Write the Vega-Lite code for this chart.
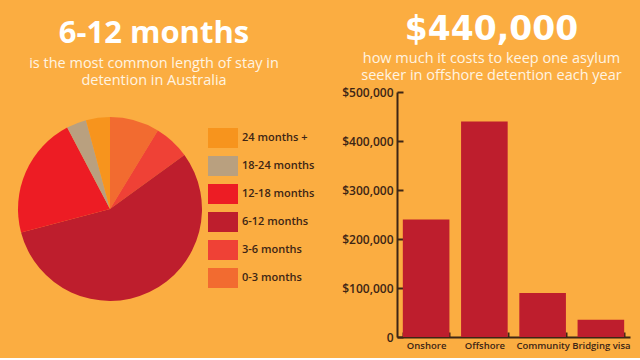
{
  "$schema": "https://vega.github.io/schema/vega-lite/v6.json",
  "background": "#FBAD41",
  "padding": {"left": 18, "top": 13, "right": 14, "bottom": 8},
  "config": {"view": {"stroke": null}, "font": "Open Sans"},
  "bounds": "flush",
  "spacing": 195,
  "hconcat": [
    {
      "width": 184,
      "height": 234,
      "title": {
        "text": "6-12 months",
        "subtitle": ["is the most common length of stay in", "detention in Australia"],
        "font": "Open Sans",
        "fontSize": 31,
        "fontWeight": "bold",
        "color": "#FFFFFF",
        "subtitleFont": "Open Sans",
        "subtitleFontSize": 14.5,
        "subtitleColor": "#FFF4E2",
        "subtitleLineHeight": 17,
        "subtitlePadding": 7,
        "anchor": "middle",
        "offset": 4,
        "dx": 44
      },
      "data": {
        "values": [
          {"stay": "0-3 months", "share": 8.7, "ord": 1},
          {"stay": "3-6 months", "share": 6.3, "ord": 2},
          {"stay": "6-12 months", "share": 55.9, "ord": 3},
          {"stay": "12-18 months", "share": 21.4, "ord": 4},
          {"stay": "18-24 months", "share": 3.5, "ord": 5},
          {"stay": "24 months +", "share": 4.2, "ord": 6}
        ]
      },
      "mark": {"type": "arc", "radius": 92},
      "encoding": {
        "theta": {"field": "share", "type": "quantitative", "stack": true},
        "order": {"field": "ord", "type": "quantitative"},
        "color": {
          "field": "stay",
          "type": "nominal",
          "scale": {
            "domain": ["24 months +", "18-24 months", "12-18 months", "6-12 months", "3-6 months", "0-3 months"],
            "range": ["#F7941D", "#B9A07F", "#ED1C24", "#BE1E2D", "#EF4136", "#F26B30"]
          },
          "legend": {
            "orient": "none",
            "legendX": 195,
            "legendY": 36,
            "title": null,
            "padding": 0,
            "symbolType": "M-1.5,-1H1.5V1H-1.5Z",
            "symbolSize": 400,
            "symbolStrokeWidth": 0,
            "symbolOpacity": 1,
            "labelOffset": 9,
            "rowPadding": 8,
            "labelFont": "Open Sans",
            "labelFontSize": 11,
            "labelFontWeight": 600,
            "labelColor": "#3D2515"
          }
        }
      }
    },
    {
      "width": 233,
      "height": 245,
      "title": {
        "text": "$440,000",
        "subtitle": ["how much it costs to keep one asylum", "seeker in offshore detention each year"],
        "font": "DejaVu Sans",
        "fontSize": 33,
        "fontWeight": "bold",
        "color": "#FFFFFF",
        "subtitleFont": "Open Sans",
        "subtitleFontSize": 14.5,
        "subtitleColor": "#FFF4E2",
        "subtitleLineHeight": 17,
        "subtitlePadding": 5,
        "anchor": "middle",
        "offset": 4,
        "dx": -22
      },
      "data": {
        "values": [
          {"kind": "Onshore", "cost": 240000},
          {"kind": "Offshore", "cost": 440000},
          {"kind": "Community", "cost": 90000},
          {"kind": "Bridging visa", "cost": 35000}
        ]
      },
      "mark": {"type": "bar", "color": "#BE1E2D"},
      "encoding": {
        "x": {
          "field": "kind",
          "type": "nominal",
          "sort": null,
          "title": null,
          "scale": {"paddingInner": 0.2, "paddingOuter": 0.1},
          "axis": {
            "labelAngle": 0,
            "tickBand": "extent",
            "tickSize": -5,
            "tickWidth": 2,
            "tickColor": "#3D2515",
            "domainColor": "#3D2515",
            "domainWidth": 2,
            "labelFont": "Open Sans",
            "labelFontSize": 9.5,
            "labelFontWeight": 600,
            "labelColor": "#3D2515",
            "labelPadding": 8
          }
        },
        "y": {
          "field": "cost",
          "type": "quantitative",
          "title": null,
          "scale": {"domain": [0, 500000]},
          "axis": {
            "values": [0, 100000, 200000, 300000, 400000, 500000],
            "labelExpr": "datum.value == 0 ? '0' : format(datum.value, '$,')",
            "grid": false,
            "tickSize": -6,
            "tickWidth": 2,
            "tickColor": "#3D2515",
            "domainColor": "#3D2515",
            "domainWidth": 2,
            "labelFont": "Open Sans",
            "labelFontSize": 12,
            "labelFontWeight": 600,
            "labelColor": "#3D2515",
            "labelPadding": 10
          }
        }
      }
    }
  ]
}
